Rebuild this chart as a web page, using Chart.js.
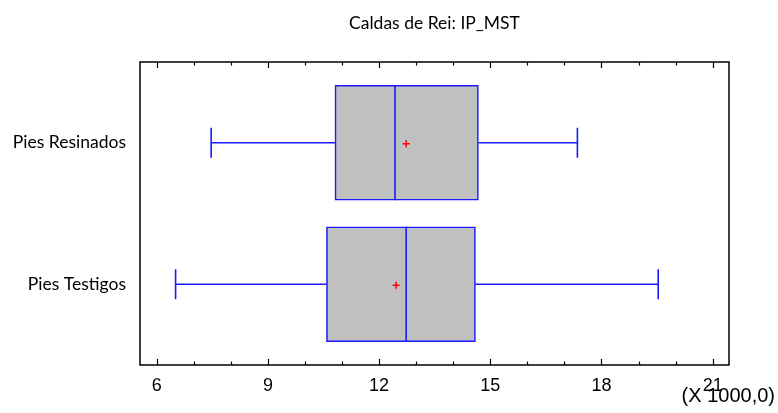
<!DOCTYPE html>
<html><head><meta charset="utf-8">
<script src="https://cdn.jsdelivr.net/npm/chart.js@4.4.1/dist/chart.umd.min.js"></script>
<style>html,body{margin:0;padding:0;background:#fff;}#wrap{width:778px;height:413px;}</style>
</head><body><div id="wrap"><canvas id="c" width="778" height="413"></canvas></div>
<script>
const title = 'Caldas de Rei: IP_MST';
const categories = ['Pies Resinados', 'Pies Testigos'];
const minVals = [7.47, 6.51];
const q1Vals = [10.81, 10.58];
const medianVals = [12.43, 12.73];
const meanVals = [12.73, 12.46];
const q3Vals = [14.68, 14.60];
const maxVals = [17.35, 19.53];
const majorTicks = [6, 9, 12, 15, 18, 21];
const minorTicks = [6,7,8,9,10,11,12,13,14,15,16,17,18,19,20,21];
const axisNote = '(X 1000,0)';

const BLUE = '#1a1aff';
const labelFont = '17.5px Lato';

const boxPlugin = {
  id: 'boxplot',
  afterDatasetsDraw(chart) {
    const ctx = chart.ctx, xs = chart.scales.x, ys = chart.scales.y, a = chart.chartArea;
    ctx.save();
    categories.forEach((c, i) => {
      const y = ys.getPixelForValue(i + 1);
      const half = 57.5, cap = 15;
      ctx.strokeStyle = BLUE; ctx.lineWidth = 1.6;
      ctx.beginPath();
      ctx.moveTo(xs.getPixelForValue(minVals[i]), y); ctx.lineTo(xs.getPixelForValue(q1Vals[i]), y);
      ctx.moveTo(xs.getPixelForValue(q3Vals[i]), y); ctx.lineTo(xs.getPixelForValue(maxVals[i]), y);
      ctx.moveTo(xs.getPixelForValue(minVals[i]), y - cap); ctx.lineTo(xs.getPixelForValue(minVals[i]), y + cap);
      ctx.moveTo(xs.getPixelForValue(maxVals[i]), y - cap); ctx.lineTo(xs.getPixelForValue(maxVals[i]), y + cap);
      const mx = xs.getPixelForValue(medianVals[i]);
      ctx.moveTo(mx, y - half); ctx.lineTo(mx, y + half);
      ctx.stroke();
      const mn = xs.getPixelForValue(meanVals[i]);
      ctx.strokeStyle = '#ff0000'; ctx.lineWidth = 1.5;
      ctx.beginPath();
      ctx.moveTo(mn - 3.5, y + 1); ctx.lineTo(mn + 3.5, y + 1);
      ctx.moveTo(mn, y - 2.5); ctx.lineTo(mn, y + 4.5);
      ctx.stroke();
    });
    ctx.strokeStyle = '#000'; ctx.lineWidth = 1.5;
    ctx.strokeRect(a.left, a.top, a.right - a.left, a.bottom - a.top);
    ctx.lineWidth = 1.2;
    ctx.beginPath();
    minorTicks.forEach(v => {
      const x = Math.round(xs.getPixelForValue(v)) + 0.5;
      const len = majorTicks.includes(v) ? 6 : 3.5;
      ctx.moveTo(x, a.bottom); ctx.lineTo(x, a.bottom - len);
      ctx.moveTo(x, a.top); ctx.lineTo(x, a.top + len);
    });
    ctx.stroke();
    ctx.fillStyle = '#000';
    ctx.font = labelFont;
    ctx.textAlign = 'center'; ctx.textBaseline = 'middle';
    ctx.fillText(title, (a.left + a.right) / 2, 23);
    ctx.font = '20px "Liberation Sans"';
    ctx.textAlign = 'right';
    ctx.fillText(axisNote, 775, 396);
    ctx.restore();
  }
};

new Chart(document.getElementById('c'), {
  type: 'bar',
  data: {
    datasets: [{
      data: categories.map((c, i) => ({ x: [q1Vals[i], q3Vals[i]], y: i + 1 })),
      backgroundColor: '#c0c0c0',
      borderColor: BLUE,
      borderWidth: 1.6,
      borderSkipped: false,
      barThickness: 115
    }]
  },
  options: {
    indexAxis: 'y',
    responsive: false,
    animation: false,
    devicePixelRatio: 1,
    layout: { padding: { top: 62, right: 49, left: 0, bottom: 0 } },
    plugins: { legend: { display: false }, tooltip: { enabled: false }, title: { display: false } },
    scales: {
      x: {
        type: 'linear', min: 5.55, max: 21.44, offset: false,
        grid: { display: false, drawTicks: false },
        border: { display: false },
        afterBuildTicks: s => { s.ticks = majorTicks.map(v => ({ value: v })); },
        afterFit: s => { s.height = 48; },
        ticks: { color: '#000', font: { family: 'Liberation Sans', size: 18 }, padding: 10, maxRotation: 0, autoSkip: false }
      },
      y: {
        type: 'linear', min: 0.43, max: 2.57, reverse: true, offset: false,
        grid: { display: false, drawTicks: false },
        border: { display: false },
        afterBuildTicks: s => { s.ticks = categories.map((c, i) => ({ value: i + 1 })); },
        afterFit: s => { s.width = 140; },
        ticks: { color: '#000', font: { family: 'Lato', size: 17.5 }, padding: 14, callback: (v) => categories[v - 1] || '' }
      }
    }
  },
  plugins: [boxPlugin]
});
</script></body></html>
